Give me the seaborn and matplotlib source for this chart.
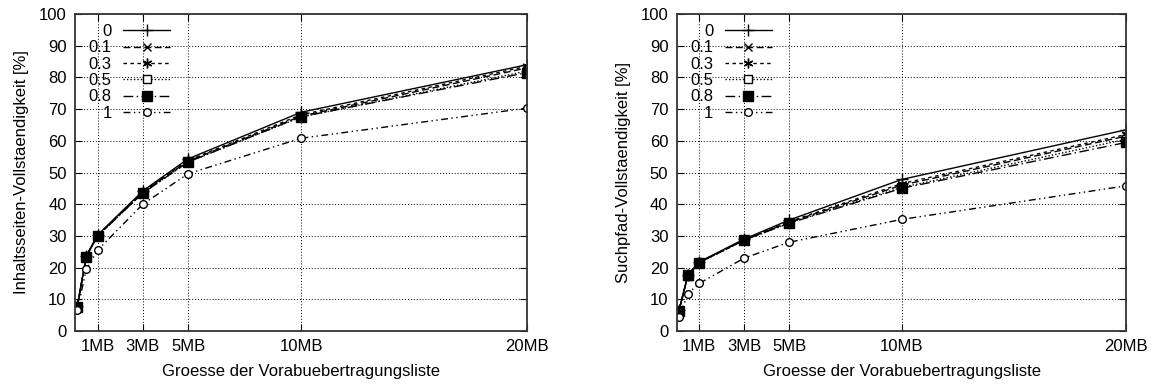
import numpy as np
import pandas as pd
import seaborn as sns
import matplotlib.pyplot as plt

sns.set_style('ticks')
plt.rcParams['font.family'] = ['Liberation Sans', 'DejaVu Sans']
plt.rcParams['font.size'] = 12
plt.rcParams['text.color'] = 'black'
plt.rcParams['axes.labelcolor'] = 'black'

# Groesse der Vorabuebertragungsliste [MB]
x_mb = [0.1, 0.5, 1, 3, 5, 10, 20]
series_names = ['0', '0.1', '0.3', '0.5', '0.8', '1']

# Inhaltsseiten-Vollstaendigkeit [%]
inhalt_0 = [8.0, 23.8, 30.3, 44.2, 54.3, 69.0, 84.0]
inhalt_01 = [7.8, 23.6, 30.1, 43.8, 53.6, 67.8, 83.0]
inhalt_03 = [7.8, 23.6, 30.1, 43.9, 53.8, 68.2, 83.5]
inhalt_05 = [7.7, 23.5, 30.0, 43.5, 53.3, 67.5, 82.0]
inhalt_08 = [7.6, 23.5, 30.0, 43.5, 53.3, 67.6, 81.5]
inhalt_1 = [6.5, 19.5, 25.5, 40.0, 49.6, 60.8, 70.3]

# Suchpfad-Vollstaendigkeit [%]
such_0 = [6.5, 17.8, 21.8, 29.0, 35.0, 47.8, 63.5]
such_01 = [6.4, 17.6, 21.6, 28.7, 34.3, 46.0, 61.5]
such_03 = [6.4, 17.7, 21.7, 28.8, 34.5, 46.5, 62.0]
such_05 = [6.3, 17.5, 21.5, 28.6, 34.1, 45.3, 60.5]
such_08 = [6.3, 17.6, 21.6, 28.7, 34.0, 45.0, 59.5]
such_1 = [4.5, 11.8, 15.0, 23.0, 28.0, 35.2, 45.8]

xtick_pos = [1, 3, 5, 10, 20]
xtick_lab = ['1MB', '3MB', '5MB', '10MB', '20MB']

# gnuplot-aehnliche Linienstile
styles = [
    dict(linestyle='-', marker='+', mfc='none', ms=8),
    dict(linestyle=(0, (5, 2.5)), marker='x', mfc='none', ms=6),
    dict(linestyle=(0, (2.5, 2.5)), marker=(6, 2, 0), mfc='none', ms=7),
    dict(linestyle=(0, (1, 1.5)), marker='s', mfc='white', ms=6),
    dict(linestyle=(0, (7, 2.5, 1, 2.5)), marker='s', mfc='black', ms=6.5),
    dict(linestyle=(0, (5, 2.5, 1, 2.5, 1, 2.5)), marker='o', mfc='white', ms=5.5),
]

fig = plt.figure(figsize=(11.56, 3.87), dpi=100)
ax1 = fig.add_axes([0.0649, 0.1447, 0.391, 0.8191])
ax2 = fig.add_axes([0.5854, 0.1447, 0.389, 0.8191])

panels = [
    (ax1, [inhalt_0, inhalt_01, inhalt_03, inhalt_05, inhalt_08, inhalt_1],
     'Inhaltsseiten-Vollstaendigkeit [%]'),
    (ax2, [such_0, such_01, such_03, such_05, such_08, such_1],
     'Suchpfad-Vollstaendigkeit [%]'),
]

for ax, data, ylabel in panels:
    for name, vals, st in zip(series_names, data, styles):
        sns.lineplot(x=x_mb, y=vals, ax=ax, color='black', lw=1,
                     mec='black', mew=1, label=name, **st)
    ax.set_xlim(0, 20)
    ax.set_ylim(0, 100)
    ax.set_xticks(xtick_pos)
    ax.set_xticklabels(xtick_lab)
    ax.set_yticks(np.arange(0, 101, 10))
    ax.set_xlabel('Groesse der Vorabuebertragungsliste', labelpad=7)
    ax.set_ylabel(ylabel, labelpad=7)
    ax.grid(True, linestyle=(0, (1, 2)), color='black', lw=0.7)
    ax.tick_params(direction='in', top=True, right=True, length=5,
                   width=0.8, colors='black', labelsize=12, pad=6)
    for sp in ax.spines.values():
        sp.set_linewidth(1.3)
        sp.set_color('#333333')
    leg = ax.legend(loc='upper left', frameon=False, markerfirst=False,
                    handlelength=2.8, handletextpad=0.7, labelspacing=0.08,
                    fontsize=12, borderaxespad=0.2,
                    bbox_to_anchor=(0.008, 1.0))
    for t in leg.get_texts():
        t.set_color('black')

fig.savefig('out.png', dpi=100)
